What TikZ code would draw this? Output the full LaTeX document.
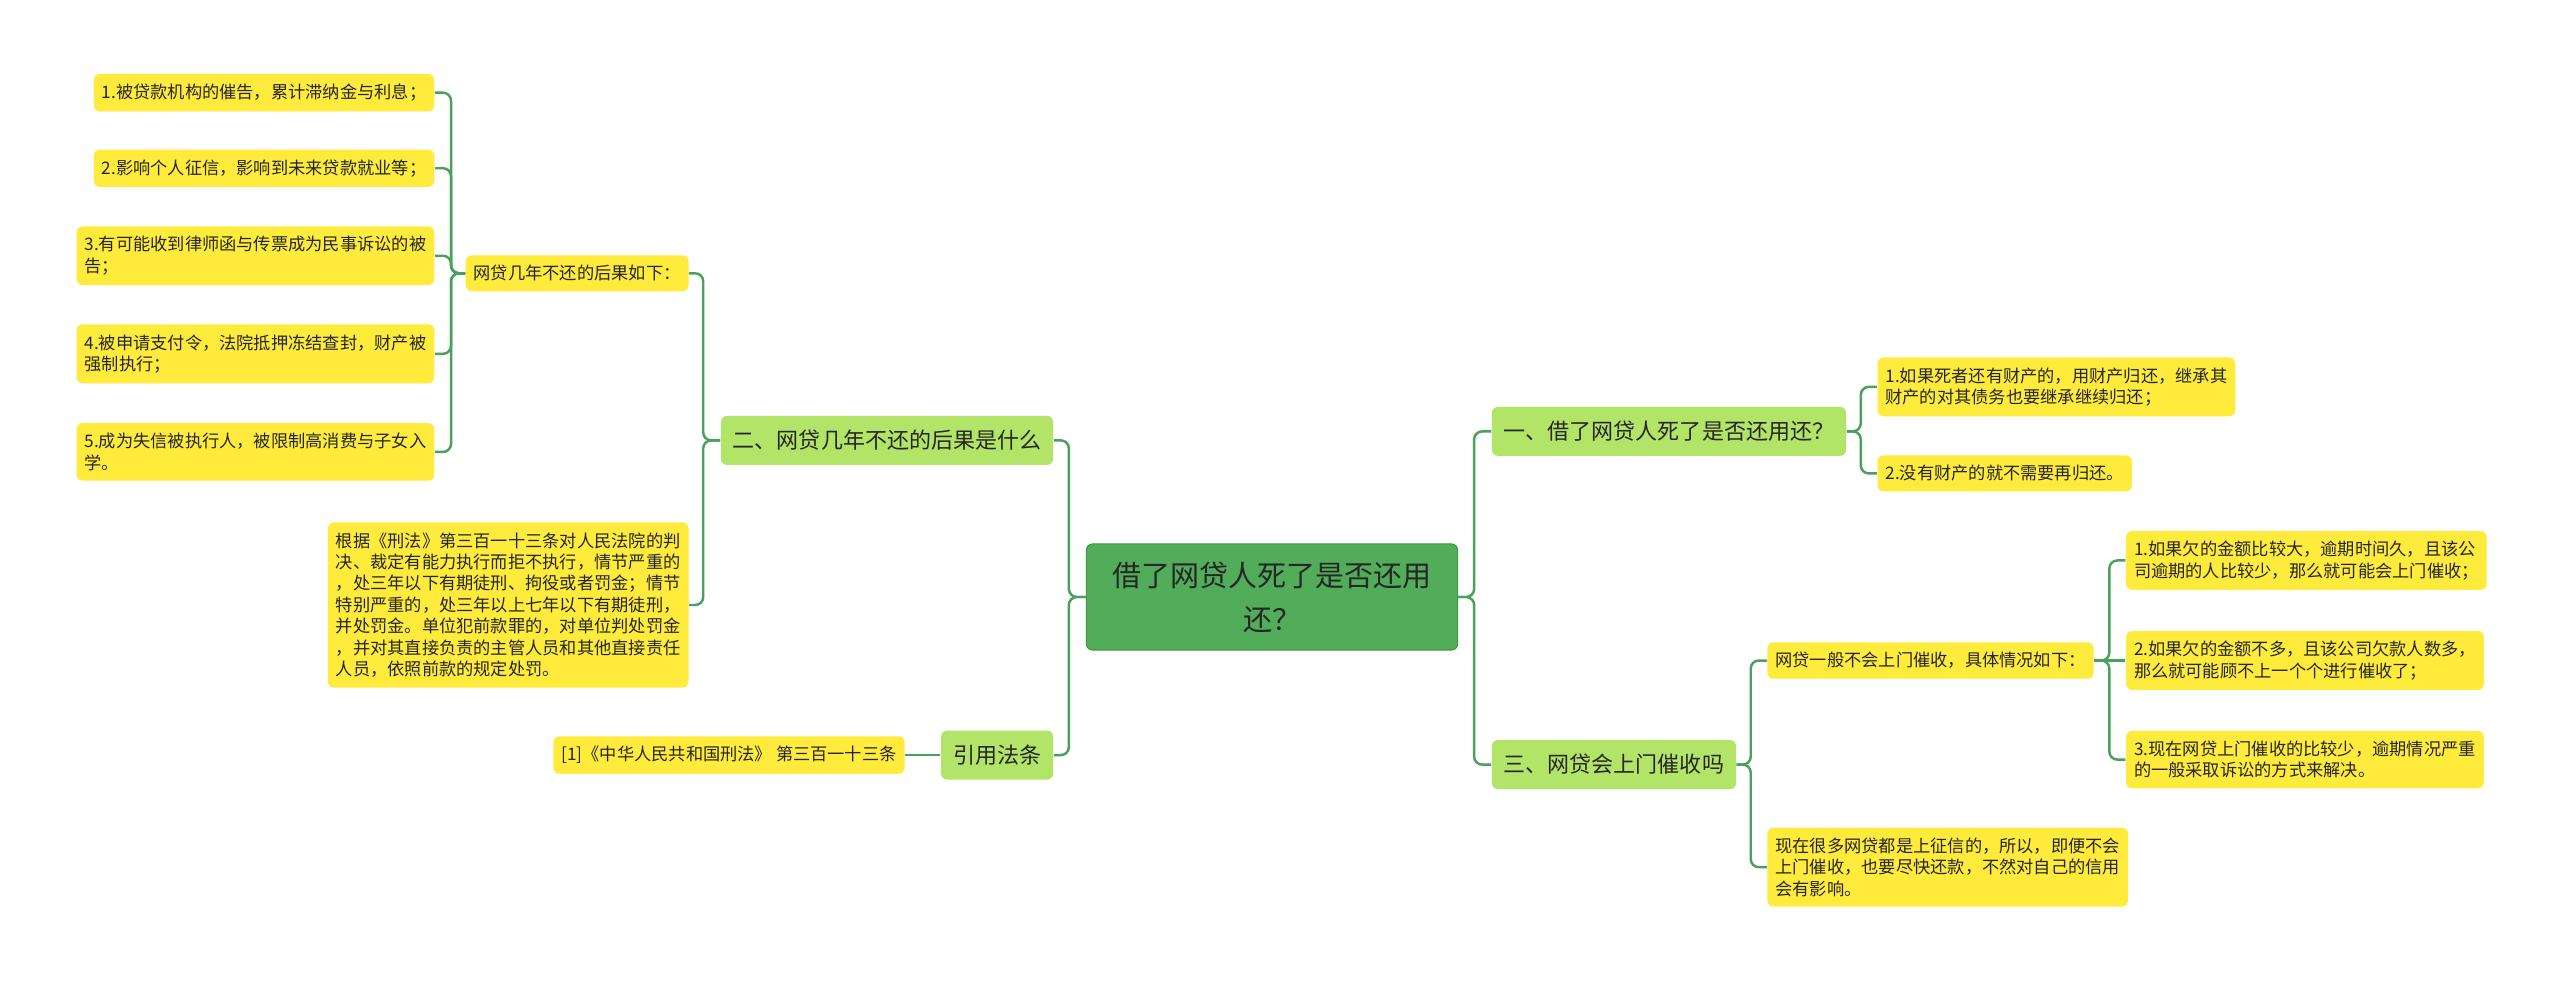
\documentclass[tikz,border=0pt]{standalone}
\usepackage{fontspec}
\usepackage{xcolor}
\usepackage{tikz}
\usetikzlibrary{positioning}
\newfontfamily\cjk{Noto Sans CJK SC}
\definecolor{mmroot}{RGB}{82,173,90}
\definecolor{mmlevel}{RGB}{178,228,104}
\definecolor{mmleaf}{RGB}{255,235,59}
\definecolor{mmline}{RGB}{74,160,92}
\definecolor{mmtext}{RGB}{38,38,38}

\begin{document}
\begin{tikzpicture}[
    x=0.01cm, y=-0.01cm,
    node distance=0.3cm,
    root/.style={fill=mmroot, draw=mmroot!85!black, line width=0.3pt,
                 rounded corners=0.06cm, minimum width=3.71cm, minimum height=1.06cm,
                 align=center, text=mmtext,
                 font=\cjk\fontsize{8.25pt}{12.5pt}\selectfont},
    lvl/.style={fill=mmlevel, rounded corners=0.06cm, inner xsep=0.12cm,
                minimum height=0.49cm, text=mmtext,
                font=\cjk\fontsize{6.26pt}{7.5pt}\selectfont},
    leaf/.style={fill=mmleaf, rounded corners=0.06cm, inner xsep=0.08cm,
                 inner ysep=0.1cm, align=left, text=mmtext,
                 font=\cjk\fontsize{4.9pt}{6.1pt}\selectfont},
    link/.style={mmline, line width=0.7pt, rounded corners=0.08cm},
  ]
    \fill[white] (0,0) rectangle (2560,983);
    \useasboundingbox (0,0) rectangle (2560,983);

    \node[root] (root) at (1272,597) {借了网贷人死了是否还用\\还？};

    \node[lvl, right=0.33cm of root, yshift=1.655cm] (a1) {一、借了网贷人死了是否还用还？};
    \node[lvl, right=0.33cm of root, yshift=-1.675cm] (a2) {三、网贷会上门催收吗};
    \node[lvl, left=0.32cm of root, yshift=1.565cm] (b1) {二、网贷几年不还的后果是什么};
    \node[lvl, left=0.32cm of root, yshift=-1.58cm] (b2) {引用法条};

    \node[leaf, right=of a1, yshift=0.445cm] (a11) {1.如果死者还有财产的，用财产归还，继承其\\财产的对其债务也要继承继续归还；};
    \node[leaf, right=of a1, yshift=-0.42cm] (a12) {2.没有财产的就不需要再归还。};

    \node[leaf, right=of a2, yshift=1.04cm] (a21) {网贷一般不会上门催收，具体情况如下：};
    \node[leaf, right=of a2, yshift=-1.025cm] (a22) {现在很多网贷都是上征信的，所以，即便不会\\上门催收，也要尽快还款，不然对自己的信用\\会有影响。};

    \node[leaf, right=0.31cm of a21, yshift=1.0cm] (a211) {1.如果欠的金额比较大，逾期时间久，且该公\\司逾期的人比较少，那么就可能会上门催收；};
    \node[leaf, right=0.31cm of a21] (a212) {2.如果欠的金额不多，且该公司欠款人数多，\\那么就可能顾不上一个个进行催收了；};
    \node[leaf, right=0.31cm of a21, yshift=-0.99cm] (a213) {3.现在网贷上门催收的比较少，逾期情况严重\\的一般采取诉讼的方式来解决。};

    \node[leaf, left=0.31cm of b1, yshift=1.67cm] (b11) {网贷几年不还的后果如下：};
    \node[leaf, left=0.31cm of b1, yshift=-1.645cm] (b12) {根据《刑法》第三百一十三条对人民法院的判\\决、裁定有能力执行而拒不执行，情节严重的\\，处三年以下有期徒刑、拘役或者罚金；情节\\特别严重的，处三年以上七年以下有期徒刑，\\并处罚金。单位犯前款罪的，对单位判处罚金\\，并对其直接负责的主管人员和其他直接责任\\人员，依照前款的规定处罚。};

    \node[leaf, left=of b11, yshift=1.805cm] (b111) {1.被贷款机构的催告，累计滞纳金与利息；};
    \node[leaf, left=of b11, yshift=1.05cm] (b112) {2.影响个人征信，影响到未来贷款就业等；};
    \node[leaf, left=of b11, yshift=0.175cm] (b113) {3.有可能收到律师函与传票成为民事诉讼的被\\告；};
    \node[leaf, left=of b11, yshift=-0.805cm] (b114) {4.被申请支付令，法院抵押冻结查封，财产被\\强制执行；};
    \node[leaf, left=of b11, yshift=-1.785cm] (b115) {5.成为失信被执行人，被限制高消费与子女入\\学。};

    \node[leaf, left=0.35cm of b2] (law) {[1]《中华人民共和国刑法》 第三百一十三条};

    \foreach \c in {a1, a2}
      \draw[link] (root.east) -- ++(16,0) |- (\c.west);
    \foreach \c in {b1, b2}
      \draw[link] (root.west) -- ++(-17,0) |- (\c.east);
    \foreach \c in {a11, a12}
      \draw[link] (a1.east) -- ++(14,0) |- (\c.west);
    \foreach \c in {a21, a22}
      \draw[link] (a2.east) -- ++(14,0) |- (\c.west);
    \foreach \c in {a211, a213}
      \draw[link] (a21.east) -- ++(15,0) |- (\c.west);
    \draw[link] (a21.east) -- (a212.west);
    \foreach \c in {b11, b12}
      \draw[link] (b1.west) -- ++(-17,0) |- (\c.east);
    \foreach \c in {b111, b112, b113, b114, b115}
      \draw[link] (b11.west) -- ++(-14,0) |- (\c.east);
    \draw[link] (b2.west) -- (law.east);
  \end{tikzpicture}
\end{document}
